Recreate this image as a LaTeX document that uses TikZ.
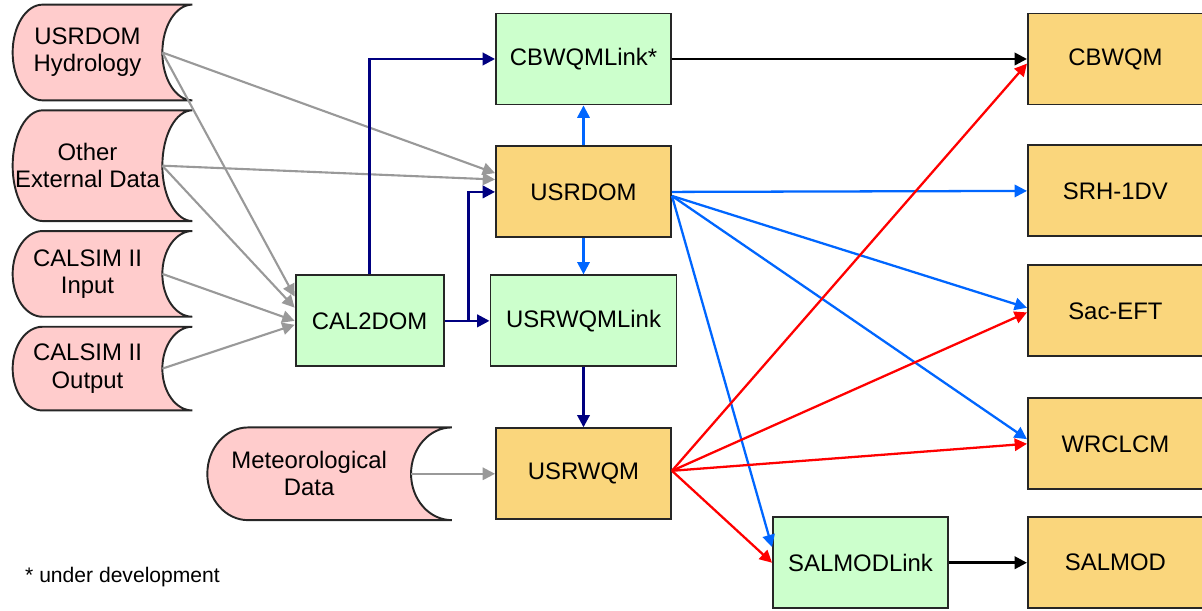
\documentclass[tikz,border=0pt]{standalone}
\usepackage{fontspec}
\setmainfont{Liberation Sans}
\usetikzlibrary{arrows.meta,positioning,calc,backgrounds}

\definecolor{storepink}{RGB}{255,204,204}
\definecolor{linkgreen}{RGB}{204,255,204}
\definecolor{modorange}{RGB}{250,214,124}
\definecolor{flowgray}{RGB}{153,153,153}
\definecolor{flownavy}{RGB}{0,0,128}
\definecolor{flowblue}{RGB}{0,102,255}
\definecolor{flowred}{RGB}{255,0,0}

\begin{document}
\begin{tikzpicture}[
  font=\fontsize{13.6}{15.5}\selectfont,
  >={Triangle[length=7pt,width=7pt]},
  box/.style={draw=black!85,line width=1.1pt,
              minimum height=1.82cm,minimum width=3.5cm,align=center,fill=modorange},
  lnk/.style={box,fill=linkgreen},
  store/.style={inner xsep=0pt,minimum width=2.98cm,align=center},
  gin/.style={->,flowgray,line width=1.2pt},
  nv/.style={->,flownavy,line width=1.5pt},
  bl/.style={->,flowblue,line width=1.3pt},
  rd/.style={->,flowred,line width=1.3pt},
  blk/.style={->,black,line width=1.5pt}
]
\useasboundingbox (0,0) rectangle (24.04,12.22);

% ---- surse de date (stanga) ----
\node[store,minimum height=1.9cm] (hyd) at (1.75,11.17) {USRDOM\\Hydrology};
\node[store,minimum height=2.2cm,below=0.2cm of hyd] (ext) {Other\\External Data};
\node[store,minimum height=1.7cm,below=0.2cm of ext] (csin) {CALSIM II\\Input};
\node[store,minimum height=1.66cm,below=0.2cm of csin] (csout) {CALSIM II\\Output};

% ---- modele si legaturi (centru) ----
\node[lnk] (cbl) at (11.67,11.04) {CBWQMLink*};
\node[box,below=0.8cm of cbl] (usrdom) {USRDOM};
\node[lnk,minimum width=3.72cm,below=0.72cm of usrdom] (wql) {USRWQMLink};
\node[box,below=1.2cm of wql] (wqm) {USRWQM};
\node[lnk,minimum width=2.96cm,left=0.9cm of wql] (cal) {CAL2DOM};
\node[store,minimum width=4.06cm,minimum height=1.84cm,left=1.68cm of wqm] (met) {Meteorological\\Data};

% ---- modele biologice (dreapta) ----
\node[box,right=7.1cm of cbl] (cbwqm) {CBWQM};
\node[box,below=0.78cm of cbwqm] (srh) {SRH-1DV};
\node[box,below=0.54cm of srh] (sac) {Sac-EFT};
\node[box,below=0.8cm of sac] (wrc) {WRCLCM};
\node[box,below=0.52cm of wrc] (salmod) {SALMOD};
\node[lnk,left=1.56cm of salmod] (sml) {SALMODLink};

% conturul surselor de date
\begin{scope}[on background layer]
  \foreach \s in {hyd,ext,csin,csout,met}
    \draw[draw=black!85,line width=1.1pt,fill=storepink]
      let \p1=(\s.north west), \p2=(\s.south east),
          \n1={(\x2-\x1)/5}, \n2={(\y1-\y2)/2} in
      ({\x1+\n1},\y1) -- ({\x2+\n1},\y1)
      arc[start angle=90,end angle=270,x radius=\n1,y radius=\n2]
      -- ({\x1+\n1},\y2)
      arc[start angle=270,end angle=90,x radius=\n1,y radius=\n2] -- cycle;
\end{scope}

% ---- intrari (gri) ----
\draw[gin] (hyd.east) -- (usrdom.168);
\draw[gin] (hyd.east) -- (cal.162);
\draw[gin] (ext.east) -- (usrdom.172);
\draw[gin] (ext.east) -- (cal.170);
\draw[gin] (csin.east) -- (cal.west);
\draw[gin] (csout.east) -- (cal.183);
\draw[gin] (met.east) -- (wqm.west);

% ---- CAL2DOM si legaturi (bleumarin) ----
\coordinate (jn) at ($(cal.east)!0.53!(wql.west)$);
\draw[nv] (cal.north) |- (cbl.west);
\draw[nv] (cal.east) -- (wql.west);
\draw[nv] (jn) |- (usrdom.west);
\draw[nv] (wql) -- (wqm);

% ---- iesiri USRDOM (albastru) ----
\coordinate (bfan) at ($(usrdom.east)+(0,-0.08)$);
\draw[bl] (usrdom) -- (cbl);
\draw[bl] (usrdom) -- (wql);
\draw[bl] (usrdom.east) -- (srh.west);
\draw[bl] (bfan) -- (sac.178);
\draw[bl] (bfan) -- (wrc.177);
\draw[bl] (bfan) -- (sml.170);

% ---- iesiri USRWQM (rosu) ----
\coordinate (rfan) at ($(wqm.east)+(0,0.06)$);
\draw[rd] (rfan) -- (cbwqm.183);
\draw[rd] (rfan) -- (sac.181);
\draw[rd] (rfan) -- (wrc.west);
\draw[rd] (rfan) -- (sml.west);

% ---- legaturi directe ----
\draw[blk] (cbl) -- (cbwqm);
\draw[blk] (sml) -- (salmod);

\node[anchor=west,font=\fontsize{12}{14}\selectfont] (note) at (0.38,0.68) {* under development};

\end{tikzpicture}
\end{document}
